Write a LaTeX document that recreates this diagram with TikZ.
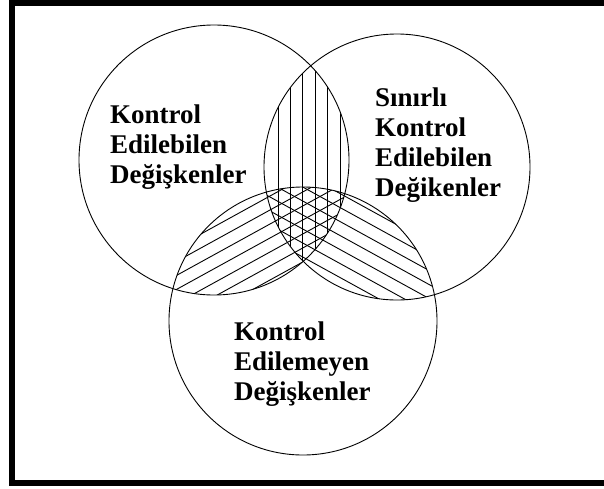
\documentclass[tikz,border=0pt]{standalone}
\usepackage{fontspec}
\setmainfont{Liberation Serif}

\begin{document}
\begin{tikzpicture}[
            x=1pt, y=-1pt,
            ring/.style={draw, line width=0.9pt},
            hatch/.style={line width=0.9pt},
            lbl/.style={anchor=north west, align=left, inner sep=0pt, font=\fontsize{27}{30}\selectfont\bfseries},
            frame/.style={line width=6pt}
        ]
            \useasboundingbox (0,0) rectangle (604,488);

            % Outer frame (runs off the right edge)
            \draw[frame] (650,3) -- (12,3) -- (12,483) -- (650,483);

            % Circle centres
            \coordinate (cL) at (214,160);
            \coordinate (cR) at (397,167);
            \coordinate (cB) at (303,321);

            % Hatching: upper lens
            \begin{scope}
                \clip (cL) circle[radius=135pt];
                \clip (cR) circle[radius=133pt];
                \foreach \x in {278,290.4,...,341}
                    \draw[hatch] (\x,40) -- (\x,280);
            \end{scope}

            % Hatching: left lower lens
            \begin{scope}
                \clip (cL) circle[radius=135pt];
                \clip (cB) circle[radius=134pt];
                \foreach \b in {150,164,...,500}
                    \draw[hatch] (150,\b) -- ++(210,-115.5);
            \end{scope}

            % Hatching: right lower lens
            \begin{scope}
                \clip (cR) circle[radius=133pt];
                \clip (cB) circle[radius=134pt];
                \foreach \b in {60,74,...,320}
                    \draw[hatch] (250,\b) -- ++(210,115.5);
            \end{scope}

            % Circles
            \draw[ring] (cL) circle[radius=135pt];
            \draw[ring] (cR) circle[radius=133pt];
            \draw[ring] (cB) circle[radius=134pt];

            % Labels
            \node[lbl] (kontrol) at (110,104.7) {Kontrol\\Edilebilen\\Değişkenler};
            \node[lbl] (sinirli) at (375,87.5) {Sınırlı\\Kontrol\\Edilebilen\\Değikenler};
            \node[lbl] (edilemeyen) at (234,321.7) {Kontrol\\Edilemeyen\\Değişkenler};
        \end{tikzpicture}
\end{document}
